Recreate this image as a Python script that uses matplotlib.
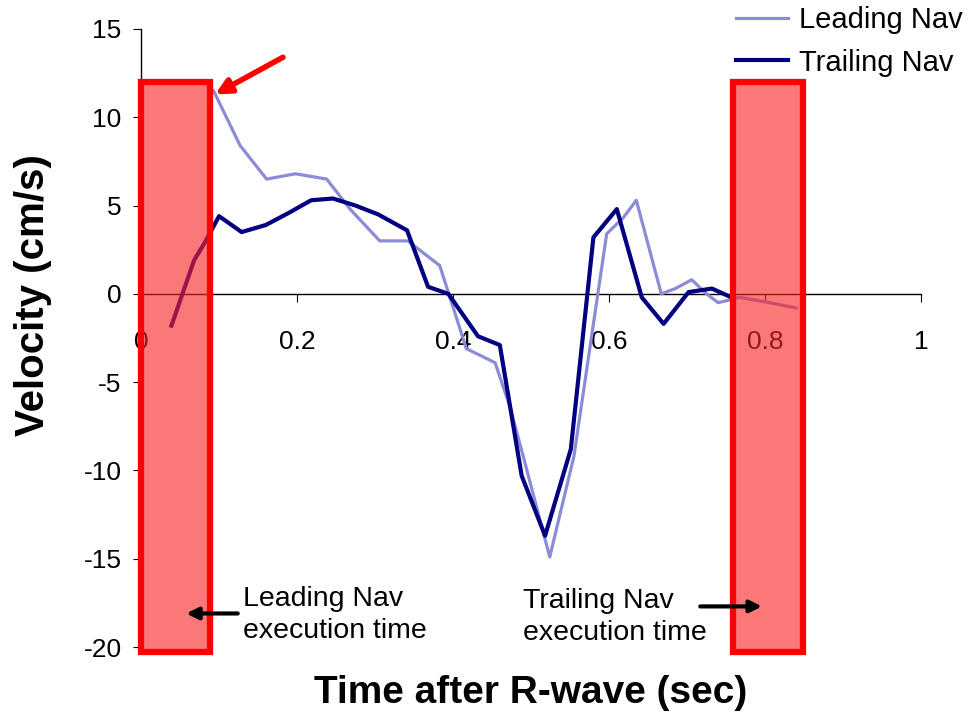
import matplotlib
matplotlib.use("Agg")
import matplotlib.pyplot as plt
from matplotlib.patches import Rectangle

plt.rcParams['font.family'] = ['Liberation Sans', 'DejaVu Sans']
plt.rcParams['axes.unicode_minus'] = False

# Velocity traces (time after R-wave in s, velocity in cm/s)
lead_t = [0.093, 0.127, 0.161, 0.198, 0.238, 0.268, 0.306, 0.342, 0.383, 0.417,
          0.454, 0.473, 0.490, 0.524, 0.555, 0.597, 0.618, 0.635, 0.667, 0.685,
          0.706, 0.725, 0.740, 0.768, 0.806, 0.840]
lead_v = [11.5, 8.4, 6.5, 6.8, 6.5, 4.8, 3.0, 3.0, 1.6, -3.1,
          -3.9, -6.4, -9.2, -14.9, -9.2, 3.4, 4.3, 5.3, 0.0, 0.3,
          0.8, 0.0, -0.5, -0.2, -0.5, -0.8]

trail_t = [0.039, 0.068, 0.083, 0.100, 0.129, 0.160, 0.190, 0.218, 0.246, 0.275,
           0.304, 0.341, 0.368, 0.394, 0.432, 0.460, 0.488, 0.518, 0.551, 0.580,
           0.610, 0.642, 0.670, 0.702, 0.732, 0.757]
trail_v = [-1.8, 1.9, 3.0, 4.4, 3.5, 3.9, 4.6, 5.3, 5.4, 5.0,
           4.5, 3.6, 0.4, 0.0, -2.4, -2.9, -10.3, -13.7, -8.8, 3.2,
           4.8, -0.2, -1.7, 0.1, 0.3, -0.2]

# Navigator execution windows (start, end) in seconds
lead_window = (0.0, 0.088)
trail_window = (0.759, 0.849)
window_top, window_bottom = 12.0, -20.3

x_ticks = [0, 0.2, 0.4, 0.6, 0.8, 1]
x_tick_labels = ["0", "0.2", "0.4", "0.6", "0.8", "1"]
y_ticks = [-20, -15, -10, -5, 0, 5, 10, 15]

fig = plt.figure(figsize=(9.74, 7.14), dpi=100)
ax = fig.add_axes([0.1448, 0.0938, 0.8008, 0.8656])

ax.plot(lead_t, lead_v, color='#8c8cd6', lw=2.3, label='Leading Nav', zorder=3)
ax.plot(trail_t, trail_v, color='#000080', lw=3.0, label='Trailing Nav', zorder=3)

for (a, b) in (lead_window, trail_window):
    ax.add_patch(Rectangle((a, window_bottom), b - a, window_top - window_bottom,
                           facecolor=(0.97, 0.15, 0.15, 0.62), edgecolor='#ff0000',
                           lw=4.5, zorder=5, clip_on=False))

ax.set_xlim(0, 1)
ax.set_ylim(-20, 15)
ax.spines['top'].set_visible(False)
ax.spines['right'].set_visible(False)
ax.spines['bottom'].set_position(('data', 0))
ax.spines['bottom'].set_linewidth(1.0)
ax.spines['left'].set_linewidth(1.0)
ax.spines['bottom'].set_zorder(2)

ax.set_xticks(x_ticks)
ax.set_xticklabels(x_tick_labels)
ax.set_yticks(y_ticks)
ax.tick_params(axis='x', direction='out', length=6, pad=20, labelsize=19)
ax.tick_params(axis='y', direction='out', length=6, pad=8, labelsize=19)
for lbl in ax.get_xticklabels():
    lbl.set_zorder(1)

fig.text(0.545, 0.03, 'Time after R-wave (sec)', ha='center', va='center',
         fontsize=28, fontweight='bold')
fig.text(0.034, 0.587, 'Velocity (cm/s)', ha='center', va='center',
         rotation=90, fontsize=29, fontweight='bold')

# red pointer at the first leading-navigator sample
ax.annotate('', xy=(0.095, 11.3), xytext=(0.182, 13.4),
            arrowprops=dict(arrowstyle='-|>,head_length=0.9,head_width=0.45',
                            color='#ff0000', lw=4, shrinkA=0, shrinkB=0),
            zorder=6, annotation_clip=False)

# execution time notes
ax.annotate('', xy=(0.058, -18.1), xytext=(0.124, -18.1),
            arrowprops=dict(arrowstyle='-|>,head_length=0.7,head_width=0.35',
                            color='black', lw=3, shrinkA=0, shrinkB=0), zorder=6)
ax.text(0.131, -18.2, 'Leading Nav\nexecution time', fontsize=20.5,
        ha='left', va='center', linespacing=1.3, zorder=6)
ax.annotate('', xy=(0.796, -17.7), xytext=(0.717, -17.7),
            arrowprops=dict(arrowstyle='-|>,head_length=0.7,head_width=0.35',
                            color='black', lw=3, shrinkA=0, shrinkB=0), zorder=6)
ax.text(0.49, -18.3, 'Trailing Nav\nexecution time', fontsize=20.5,
        ha='left', va='center', linespacing=1.3, zorder=6)

leg = fig.legend(loc='upper right', bbox_to_anchor=(1.0, 1.008), frameon=False,
                 fontsize=21, handlelength=1.8, handletextpad=0.35,
                 labelspacing=0.5, borderaxespad=0.0)

fig.savefig('out.png', dpi=100)
